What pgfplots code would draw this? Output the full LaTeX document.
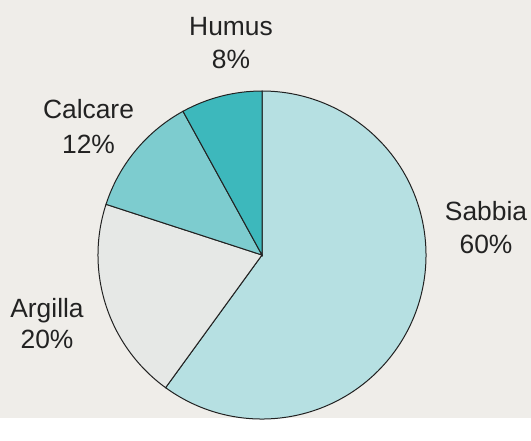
\documentclass[border=0pt]{standalone}
\usepackage{pgfplots}
\pgfplotsset{compat=1.18}
\usepackage{pgfplotstable}
\usepackage{fontspec}
\setmainfont{Liberation Sans}
\definecolor{paper}{HTML}{EFEDE9}
\definecolor{humus}{HTML}{3DB8BC}
\definecolor{calcare}{HTML}{7DCCCF}
\definecolor{argilla}{HTML}{E6E8E6}
\definecolor{sabbia}{HTML}{B6E0E2}
\definecolor{txt}{HTML}{222222}
\def\pieR{82pt}
\def\wstart{0}\def\wstop{0}
\pgfdeclareplotmark{wedge}{%
  \pgfpathmoveto{\pgfpointorigin}%
  \pgfpathlineto{\pgfpointpolar{\wstart}{\pieR}}%
  \pgfpatharc{\wstart}{\wstop}{\pieR}%
  \pgfpathclose
  \pgfusepathqfillstroke
}
\pgfplotsset{wedgeplot/.style={only marks, mark=wedge,
  visualization depends on={\thisrow{start} \as \wstart},
  visualization depends on={\thisrow{stop} \as \wstop},
  mark options={draw=txt, fill=#1, line width=0.5pt}}}
\pgfplotstableread{
label value start stop cx cy
Humus 8 90 118.8 262 163
Calcare 12 118.8 162 262 163
Argilla 20 162 234 262 163
Sabbia 60 234 450 262 163
}\soil
\begin{document}
\begin{tikzpicture}
\begin{axis}[
  scale only axis, width=265.5pt, height=209pt,
  xmin=0, xmax=531, ymin=0, ymax=418,
  axis line style={draw=none}, ticks=none,
  axis background/.style={fill=paper},
  clip=false,
]
\addplot[wedgeplot=sabbia,
  skip coords between index={0}{3}] table[x=cx, y=cy] {\soil};
\addplot[wedgeplot=argilla,
  skip coords between index={0}{2}, skip coords between index={3}{4}] table[x=cx, y=cy] {\soil};
\addplot[wedgeplot=calcare,
  skip coords between index={0}{1}, skip coords between index={2}{4}] table[x=cx, y=cy] {\soil};
\addplot[wedgeplot=humus,
  skip coords between index={1}{4}] table[x=cx, y=cy] {\soil};
\begin{scope}[every node/.style={font=\fontsize{13.2pt}{17pt}\selectfont, text=txt, anchor=base, inner sep=0pt}]
\node at (axis cs:231,383) {Humus};
\node at (axis cs:231,350) {8\%};
\node at (axis cs:88.5,300) {Calcare};
\node at (axis cs:88.5,265) {12\%};
\node at (axis cs:486,198) {Sabbia};
\node at (axis cs:486,165) {60\%};
\node at (axis cs:47,101) {Argilla};
\node at (axis cs:47,70) {20\%};
\end{scope}
\end{axis}
\end{tikzpicture}
\end{document}
